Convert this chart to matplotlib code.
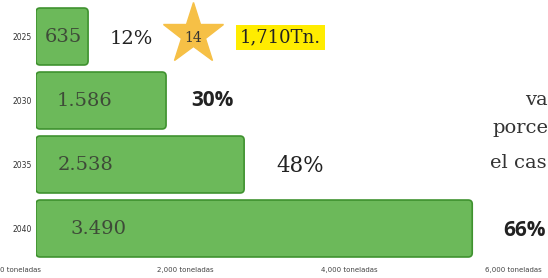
import numpy as np
import matplotlib
matplotlib.use('Agg')
import matplotlib.pyplot as plt
from matplotlib.patches import FancyBboxPatch
from matplotlib.transforms import ScaledTranslation

# years (rows), tonnages and percentages
years = ['2025', '2030', '2035', '2040']
tons = [635, 1586, 2538, 3490]
# bar lengths as drawn in the source (the 2040 bar is drawn longer than its label)
bar_len = [635, 1586, 2538, 5320]
value_labels = ['635', '1.586', '2.538', '3.490']
pct_labels = ['12%', '30%', '48%', '66%']
tick_vals = [0, 2000, 4000, 6000]
tick_labels = ['0 toneladas', '2,000 toneladas', '4,000 toneladas', '6,000 toneladas']
star_text = '14'
highlight_text = '1,710Tn.'
side_words = ['va', 'porce', 'el cas']

W, H = 548, 278
fig = plt.figure(figsize=(W / 100, H / 100), dpi=100)
ax = fig.add_axes([36 / W, (H - 260.5) / H, 512 / W, 256 / H])

y = np.arange(len(years))
bars = ax.barh(y, bar_len, height=0.89, color='#6cb95a')
ax.set_xlim(0, 6244)
ax.set_ylim(3.5, -0.5)

# rounded corners: swap each rectangle for a rounded box of the same size
p0 = ax.transData.transform((0, 0))
p1 = ax.transData.transform((1, 1))
sx = p1[0] - p0[0]
sy = abs(p1[1] - p0[1])
for r in bars:
    box = FancyBboxPatch(r.get_xy(), r.get_width(), r.get_height(),
                         boxstyle='round,pad=0,rounding_size=%f' % (4 / sx),
                         mutation_aspect=sx / sy,
                         facecolor='#6cb95a', edgecolor='#3f922f', linewidth=1.2)
    ax.add_patch(box)
    r.remove()

ax.set_yticks(y)
ax.set_yticklabels(years, fontsize=5.5, color='#333333')
ax.set_xticks(tick_vals)
ax.set_xticklabels(tick_labels, fontsize=5, color='#444444')
ax.tick_params(length=0)
ax.tick_params(axis='y', pad=3)
ax.tick_params(axis='x', pad=4.5)
for lab in ax.get_xticklabels():
    lab.set_transform(lab.get_transform() + ScaledTranslation(-15 / 100, 0, fig.dpi_scale_trans))
for s in ax.spines.values():
    s.set_visible(False)

# labels inside bars
in_dx = [9, 21, 22, 34]
for i, lab in enumerate(value_labels):
    ax.annotate(lab, (0, i), xytext=(in_dx[i], -1), textcoords='offset pixels',
                ha='left', va='center', fontsize=14, family='DejaVu Serif',
                color='#3e4a38')

# percentage labels after bars
pct_dx = [22, 25, 32, 31]
pct_dy = [-2, 0, -1, -2]
pct_style = [dict(family='DejaVu Serif', fontsize=14, fontweight='normal'),
             dict(family='Open Sans', fontsize=15, fontweight='bold'),
             dict(family='DejaVu Serif', fontsize=15.5, fontweight='normal'),
             dict(family='Open Sans', fontsize=15, fontweight='bold')]
for i, lab in enumerate(pct_labels):
    ax.annotate(lab, (bar_len[i], i), xytext=(pct_dx[i], pct_dy[i]),
                textcoords='offset pixels', ha='left', va='center',
                color='#222222', annotation_clip=False, **pct_style[i])

# star badge and highlighted total next to the first bar
star_tr = ax.transData + ScaledTranslation(105 / 100, 3 / 100, fig.dpi_scale_trans)
ax.plot([bar_len[0]], [0], marker='*', ms=46, color='#f6c046',
        mec='#f6c046', transform=star_tr, clip_on=False)
ax.annotate(star_text, (bar_len[0], 0), xytext=(105, -2), textcoords='offset pixels',
            ha='center', va='center', fontsize=10, family='DejaVu Serif',
            color='#333333')
ax.annotate(highlight_text, (bar_len[0], 0), xytext=(152, -1), textcoords='offset pixels',
            ha='left', va='center', fontsize=13, family='DejaVu Serif', color='#222222',
            bbox=dict(boxstyle='square,pad=0.2', facecolor='#ffec00', edgecolor='none'))

# clipped body text at the right edge of the page
side_pos = [(525, 105), (492, 133), (490, 168)]
for word, (px, py) in zip(side_words, side_pos):
    fig.text(px / W, 1 - py / H, word, ha='left', va='baseline',
             fontsize=14, family='DejaVu Serif', color='#333333')

fig.savefig('out.png', dpi=100)
